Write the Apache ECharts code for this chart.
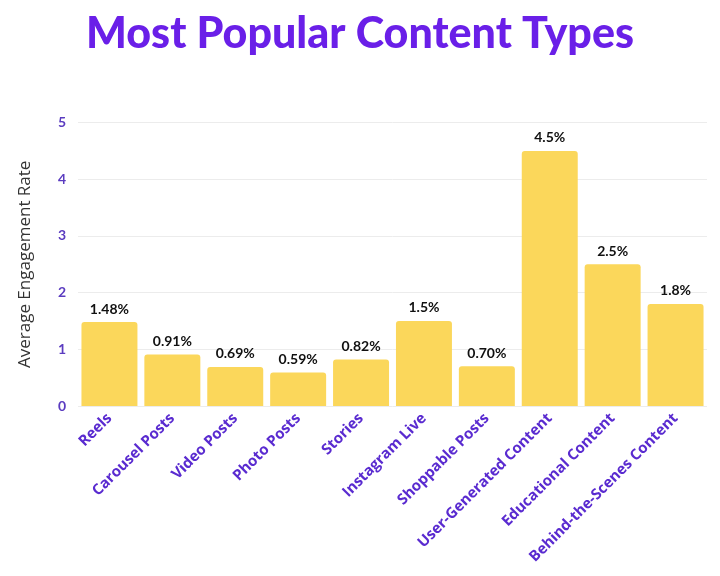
<!DOCTYPE html>
<html><head><meta charset="utf-8">
<script src="https://cdn.jsdelivr.net/npm/echarts@6/dist/echarts.min.js"></script>
<style>html,body{margin:0;padding:0;background:#fff}#c{width:720px;height:576px}</style>
</head><body><div id="c"></div>
<script>
const categories = ["Reels","Carousel Posts","Video Posts","Photo Posts","Stories","Instagram Live","Shoppable Posts","User-Generated Content","Educational Content","Behind-the-Scenes Content"];
const values = [1.48, 0.91, 0.69, 0.59, 0.82, 1.5, 0.70, 4.5, 2.5, 1.8];
const valueLabels = ["1.48%","0.91%","0.69%","0.59%","0.82%","1.5%","0.70%","4.5%","2.5%","1.8%"];
const yTicks = [0,1,2,3,4,5];

const chart = echarts.init(document.getElementById('c'), null, {renderer:'canvas'});
chart.setOption({
  backgroundColor:'#fff',
  animation:false,
  title:{
    text:'Most Popular Content Types',
    left:'center', top:8,
    textStyle:{fontFamily:'Lato', fontWeight:900, fontSize:43, color:'#6a1fe8'}
  },
  grid:{left:78, right:13, top:122.6, bottom:170},
  xAxis:{
    type:'category', data:categories,
    axisLine:{show:false}, axisTick:{show:false},
    axisLabel:{rotate:45, interval:0, margin:10, color:'#5a2bd0', fontFamily:'Open Sans', fontWeight:'bold', fontSize:15}
  },
  yAxis:{
    type:'value', min:yTicks[0], max:yTicks[yTicks.length-1], interval:1,
    name:'Average Engagement Rate', nameLocation:'middle', nameGap:44, nameRotate:90,
    nameTextStyle:{fontFamily:'Open Sans', fontSize:17, color:'#333'},
    axisLine:{show:false}, axisTick:{show:false},
    axisLabel:{color:'#5b3cc0', fontFamily:'Lato', fontWeight:'bold', fontSize:14, margin:12},
    splitLine:{lineStyle:{color:'#ececec', width:1}}
  },
  series:[{
    type:'bar',
    data:values,
    barCategoryGap:'11%',
    itemStyle:{color:'#fbd75b', borderRadius:[3,3,0,0]},
    label:{
      show:true, position:'top', distance:6,
      formatter:p=>valueLabels[p.dataIndex],
      fontFamily:'Lato', fontWeight:'bold', fontSize:14, color:'#111'
    }
  }]
});
</script></body></html>
